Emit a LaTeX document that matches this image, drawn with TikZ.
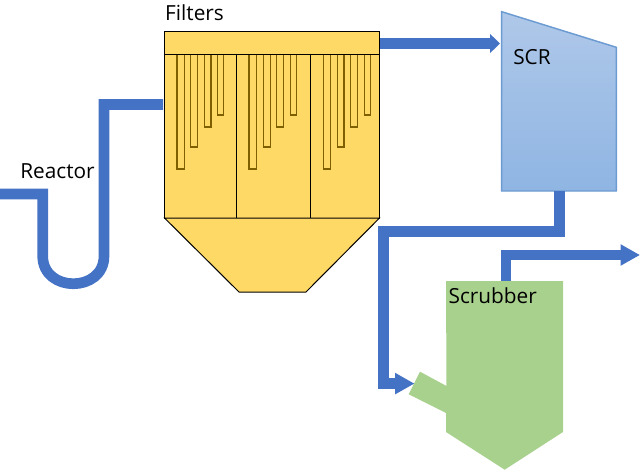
\documentclass[tikz,border=0pt]{standalone}
\usepackage{fontspec}
\setmainfont{Open Sans}
\usetikzlibrary{arrows.meta}

\definecolor{pipeblue}{HTML}{4472C4}
\definecolor{filteryellow}{HTML}{FFD966}
\definecolor{bagbrown}{HTML}{7F6000}
\definecolor{scrubgreen}{HTML}{A9D18E}
\definecolor{scrtop}{HTML}{AFC8E9}
\definecolor{scrbottom}{HTML}{8FB5E3}
\definecolor{scrline}{HTML}{6C9BD2}

\tikzstyle{pipe} = [line width=8pt,pipeblue]
\tikzstyle{pipeshort} = [pipe,-{Triangle[length=7.5pt,width=14pt]}]
\tikzstyle{pipelong} = [pipe,-{Triangle[length=14.5pt,width=15pt]}]
\tikzstyle{filterbox} = [draw=black,line width=0.75pt,fill=filteryellow]
\tikzstyle{bag} = [draw=bagbrown,line width=1.1pt]
\tikzstyle{label} = [anchor=base,inner sep=0pt,font=\fontsize{15.6}{18}\selectfont]

\begin{document}
\begin{tikzpicture}[x=0.75pt,y=-0.75pt]
\useasboundingbox (0,0) rectangle (640,471);

% Pipe ends
\coordinate (reactorin) at (0,194);
\coordinate (bendtop) at (42.7,194);
\coordinate (bendleft) at (42.7,256);
\coordinate (bendright) at (104,256);
\coordinate (risetop) at (104,104.5);
\coordinate (filterin) at (163,104.5);
\coordinate (filterout) at (380,43.5);
\coordinate (scrin) at (500,43.5);
\coordinate (scrout) at (559.7,191);
\coordinate (runright) at (559.7,231.8);
\coordinate (runleft) at (383.5,231.8);
\coordinate (runbottom) at (383.5,383.6);
\coordinate (scrubin) at (414.5,383.6);
\coordinate (scrubout) at (506,281);
\coordinate (stackbend) at (506,255);
\coordinate (stackend) at (640,255);

% Reactor pipe
\draw [pipe] (reactorin) -- (bendtop) -- (bendleft)
  .. controls (42.7,293) and (104,293) .. (bendright) -- (risetop) -- (filterin);

% Filter housing
\draw [filterbox] (164.5,54) -- (164.5,218) -- (379.5,218) -- (379.5,54) -- cycle;
\draw [filterbox] (164.5,218) -- (239,292) -- (306,292) -- (379.5,218) -- cycle;
\draw [filterbox] (164.5,31.5) rectangle (379.5,54);
\draw [line width=0.75pt] (236.5,54) -- (236.5,218);
\draw [line width=0.75pt] (310.5,54) -- (310.5,218);

% Filter bags
\foreach \xa/\xb/\yb in {177/184.5/169,190.5/197.5/147,204.5/211/127,217.5/223.5/115,
  249/256.5/169,263.5/270.5/147,276.5/283.5/127,290.5/296.5/115,
  323.5/330.5/169,337.5/344/147,350.5/357.5/127,364.5/370.5/115}
  \draw [bag] (\xa,54.5) -- (\xa,\yb) -- (\xb,\yb) -- (\xb,54.5);

% SCR
\shade [top color=scrtop,bottom color=scrbottom,draw=scrline,line width=1.1pt]
  (501.7,11.7) -- (616.3,47.3) -- (616.3,191) -- (501.7,191) -- cycle;

% Scrubber
\fill [scrubgreen] (420,371.7) -- (446.5,386) -- (446,281) -- (563,281) -- (563,432)
  -- (504.7,469.7) -- (446,432) -- (446,413) -- (408.7,394.3) -- cycle;

% Remaining pipes
\draw [pipeshort] (filterout) -- (scrin);
\draw [pipelong] (scrout) -- (runright) -- (runleft) -- (runbottom) -- (scrubin);
\draw [pipelong] (scrubout) -- (stackbend) -- (stackend);

% Labels
\node [label] (filters) at (194.5,21) {Filters};
\node [label] (reactor) at (57.5,178) {Reactor};
\node [label] (scr) at (532,64) {SCR};
\node [label] (scrubber) at (492.7,303) {Scrubber};

\end{tikzpicture}
\end{document}
